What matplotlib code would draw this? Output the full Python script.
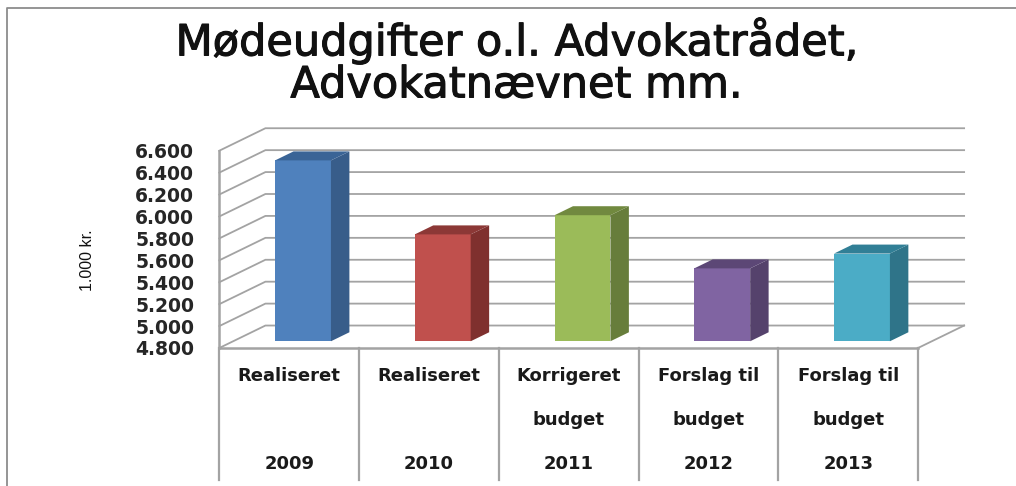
import matplotlib.pyplot as plt
import matplotlib.patheffects as pe
import numpy as np

title = "Mødeudgifter o.l. Advokatrådet,\nAdvokatnævnet mm."
ylabel = "1.000 kr."

line1 = ["Realiseret", "Realiseret", "Korrigeret", "Forslag til", "Forslag til"]
line2 = ["", "", "budget", "budget", "budget"]
years = ["2009", "2010", "2011", "2012", "2013"]
values = [6450, 5775, 5950, 5465, 5600]

yticks = [4800, 5000, 5200, 5400, 5600, 5800, 6000, 6200, 6400, 6600]
yticklabels = ["4.800", "5.000", "5.200", "5.400", "5.600", "5.800", "6.000", "6.200", "6.400", "6.600"]

front_colors = ["#4F81BD", "#C0504D", "#9BBB59", "#8064A2", "#4BACC6"]
side_colors = ["#385D8A", "#7F302E", "#677D3B", "#55426C", "#2F7489"]
top_colors = ["#3A6496", "#8C3836", "#71893F", "#5C4776", "#317F96"]

GRID = "#A3A3A3"
BAR_WIDTH = 0.4

# how far the back wall sits from the front plane, in data units
DEPTH_X = 0.33
DEPTH_Y = 205
BAR_FRONT = 0.3
BAR_BACK = 0.7


def shift(x, y, depth):
    return x + DEPTH_X * depth, y + DEPTH_Y * depth


W, H = 1016, 486
fig = plt.figure(figsize=(W / 100, H / 100), dpi=100)
ax = fig.add_axes([219.3 / W, (H - 348) / H, 698.7 / W, 197.3 / H])
ax.set_xlim(0, 5)
ax.set_ylim(yticks[0], yticks[-1])
for s in ax.spines.values():
    s.set_visible(False)
ax.set_xticks([])
ax.set_yticks(yticks)
ax.set_yticklabels(yticklabels, fontsize=13.5, fontweight="bold", color="#262626")
ax.tick_params(axis="y", length=0, pad=18)
ax.patch.set_alpha(0)

# walls and floor
for t in yticks:
    bx, by = shift(0, t, 1)
    ex, ey = shift(5, t, 1)
    ax.plot([0, bx, ex], [t, by, ey], color=GRID, lw=1.3, clip_on=False, zorder=1)
ax.plot([0, 0], [yticks[0], yticks[-1]], color=GRID, lw=1.8, clip_on=False, zorder=1)
ax.plot([0, 5], [yticks[0], yticks[0]], color=GRID, lw=1.8, clip_on=False, zorder=1)
ex, ey = shift(5, yticks[0], 1)
ax.plot([5, ex], [yticks[0], ey], color=GRID, lw=1.3, clip_on=False, zorder=1)

# the bars
centers = np.arange(len(values)) + 0.5
for i in range(len(values)):
    left = centers[i] - BAR_WIDTH / 2
    right = centers[i] + BAR_WIDTH / 2
    v = values[i]
    fx0, fy0 = shift(left, yticks[0], BAR_FRONT)
    fx1, fy1 = shift(right, v, BAR_FRONT)
    ax.bar(fx0, fy1 - fy0, width=fx1 - fx0, bottom=fy0, align="edge",
           color=front_colors[i], zorder=3, clip_on=False)
    bx1, by0 = shift(right, yticks[0], BAR_BACK)
    bx1, by1 = shift(right, v, BAR_BACK)
    ax.fill([fx1, bx1, bx1, fx1], [fy0, by0, by1, fy1],
            color=side_colors[i], lw=0, zorder=3, clip_on=False)
    bx0, _ = shift(left, v, BAR_BACK)
    ax.fill([fx0, fx1, bx1, bx0], [fy1, fy1, by1, by1],
            color=top_colors[i], lw=0, zorder=3, clip_on=False)

# category table under the plot
tr = ax.get_xaxis_transform()
for x in range(0, 6):
    ax.plot([x, x], [0, -132 / 197.3], color=GRID, lw=1.6, transform=tr, clip_on=False)
for i in range(len(values)):
    ax.text(centers[i], -27.7 / 197.3, line1[i], transform=tr, ha="center", va="center",
            fontsize=13, fontweight="bold", color="#1a1a1a")
    ax.text(centers[i], -72 / 197.3, line2[i], transform=tr, ha="center", va="center",
            fontsize=13, fontweight="bold", color="#1a1a1a")
    ax.text(centers[i], -116.3 / 197.3, years[i], transform=tr, ha="center", va="center",
            fontsize=13, fontweight="bold", color="#1a1a1a")

# regular face with a thin stroke, the original title is a bit heavier than regular
fig.text(516 / W, 1 - 62 / H, title, ha="center", va="center", fontsize=31,
         color="#111111", linespacing=1.0,
         path_effects=[pe.withStroke(linewidth=0.8, foreground="#111111")])
fig.text(88 / W, 1 - 260 / H, ylabel, rotation=90, ha="center", va="center",
         fontsize=11.5, family="Liberation Sans", color="#111111")

# outer frame of the chart, only top and left show
fig.add_artist(plt.Line2D([7 / W, 7 / W, 1], [0, 1 - 8 / H, 1 - 8 / H], color="#8C8C8C", lw=1.3))

fig.savefig("out.png", dpi=100)
